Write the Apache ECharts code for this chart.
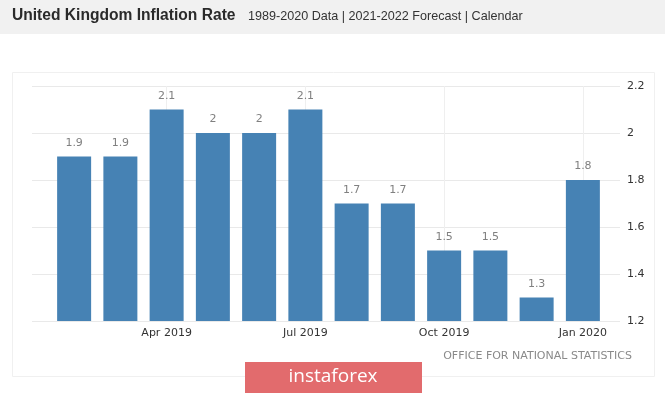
<!DOCTYPE html>
<html><head><meta charset="utf-8">
<script src="https://cdn.jsdelivr.net/npm/echarts@6/dist/echarts.min.js"></script>
<style>html,body{margin:0;padding:0;background:#fff}#c{width:665px;height:393px}</style>
</head><body><div id="c"></div>
<script>
var categories = ['Feb 2019','Mar 2019','Apr 2019','May 2019','Jun 2019','Jul 2019','Aug 2019','Sep 2019','Oct 2019','Nov 2019','Dec 2019','Jan 2020'];
var inflation = [1.9, 1.9, 2.1, 2, 2, 2.1, 1.7, 1.7, 1.5, 1.5, 1.3, 1.8];
var shownLabels = ['Apr 2019','Jul 2019','Oct 2019','Jan 2020'];
var yMin = 1.2, yMax = 2.2, yStep = 0.2;

var chart = echarts.init(document.getElementById('c'), null, {renderer:'canvas'});
var font = 'DejaVu Sans';
chart.setOption({
  animation:false,
  backgroundColor:'#fff',
  graphic:[
    {type:'rect', shape:{x:0,y:0,width:665,height:34}, style:{fill:'#f1f1f1'}, silent:true, z:-10},
    {type:'rect', shape:{x:12.5,y:72.5,width:642,height:304}, style:{fill:'none', stroke:'#f0f0f0', lineWidth:1}, silent:true, z:-10},
    {type:'text', left:12, top:8, style:{text:'United Kingdom Inflation Rate', font:'bold 15.6px "Liberation Sans", Arial', fill:'#2a2a2a'}},
    {type:'text', left:248, top:10, style:{text:'1989-2020 Data | 2021-2022 Forecast | Calendar', font:'12.6px "Liberation Sans", Arial', fill:'#333'}},
    {type:'text', right:33, top:351, style:{text:'OFFICE FOR NATIONAL STATISTICS', font:'11px "' + font + '"', fill:'#8a8a8a'}},
    {type:'rect', shape:{x:245,y:362,width:177,height:31}, style:{fill:'#e26b6d'}, silent:true},
    {type:'text', x:333, y:377, style:{text:'instaforex', font:'19px "Open Sans"', fill:'#fff', textAlign:'center', textVerticalAlign:'middle'}}
  ],
  grid:[
    {left:32, right:45, top:86, bottom:72},
    {left:51, right:59, top:86, bottom:72}
  ],
  xAxis:[
    {type:'value', gridIndex:0, show:false, min:0, max:1},
    {type:'category', gridIndex:1, data:categories,
      axisLine:{show:false}, axisTick:{show:false},
      axisLabel:{interval:function(i,v){return shownLabels.indexOf(v)>=0;}, color:'#333', fontFamily:font, fontSize:11, margin:7}}
  ],
  yAxis:[
    {type:'value', gridIndex:0, position:'right', min:yMin, max:yMax, interval:yStep,
      axisLine:{show:false}, axisTick:{show:false},
      splitLine:{lineStyle:{color:'#e9e9e9'}},
      axisLabel:{color:'#333', fontFamily:font, fontSize:11, margin:7, formatter:function(v){return +v.toFixed(1)+'';}}},
    {type:'value', gridIndex:1, min:yMin, max:yMax, interval:yStep, show:false}
  ],
  series:[{
    type:'bar', xAxisIndex:1, yAxisIndex:1, data:inflation, barWidth:34,
    itemStyle:{color:'#4682b4'},
    label:{show:true, position:'top', distance:8, color:'#808080', fontFamily:font, fontSize:11},
    markLine:{silent:true, symbol:'none', label:{show:false}, lineStyle:{color:'#efefef', type:'solid', width:1},
      data:shownLabels.map(function(c){return {xAxis:c};}), z:0}
  }]
});
</script></body></html>
